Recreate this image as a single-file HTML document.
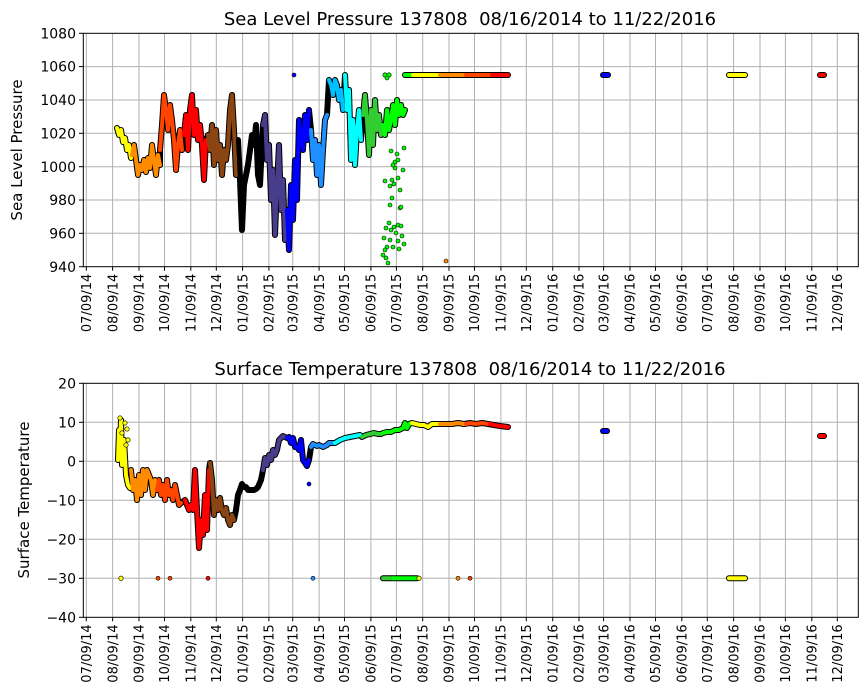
<!DOCTYPE html>
<html><head><meta charset="utf-8"><style>
html,body{margin:0;padding:0;background:#fff;}
svg{display:block;font-family:"DejaVu Sans","Liberation Sans",sans-serif;}
.t{font-size:14px;fill:#000;}
.o{fill:none;stroke:#000;stroke-width:6;stroke-linejoin:round;stroke-linecap:round;}
.c{fill:none;stroke-width:4;stroke-linejoin:round;stroke-linecap:round;}
</style></head><body>
<svg width="867" height="700" viewBox="0 0 867 700" xmlns="http://www.w3.org/2000/svg">
<defs>
<g id="vgrid" stroke="#b0b0b0" stroke-width="1">
<line x1="86.3" x2="86.3" y1="0" y2="234"/><line x1="112.6" x2="112.6" y1="0" y2="234"/><line x1="139" x2="139" y1="0" y2="234"/><line x1="164.5" x2="164.5" y1="0" y2="234"/><line x1="190.8" x2="190.8" y1="0" y2="234"/><line x1="216.3" x2="216.3" y1="0" y2="234"/><line x1="242.6" x2="242.6" y1="0" y2="234"/><line x1="268.9" x2="268.9" y1="0" y2="234"/><line x1="292.7" x2="292.7" y1="0" y2="234"/><line x1="319.1" x2="319.1" y1="0" y2="234"/><line x1="344.5" x2="344.5" y1="0" y2="234"/><line x1="370.9" x2="370.9" y1="0" y2="234"/><line x1="396.4" x2="396.4" y1="0" y2="234"/><line x1="422.7" x2="422.7" y1="0" y2="234"/><line x1="449" x2="449" y1="0" y2="234"/><line x1="474.5" x2="474.5" y1="0" y2="234"/><line x1="500.9" x2="500.9" y1="0" y2="234"/><line x1="526.3" x2="526.3" y1="0" y2="234"/><line x1="552.7" x2="552.7" y1="0" y2="234"/><line x1="579" x2="579" y1="0" y2="234"/><line x1="603.6" x2="603.6" y1="0" y2="234"/><line x1="630" x2="630" y1="0" y2="234"/><line x1="655.5" x2="655.5" y1="0" y2="234"/><line x1="681.8" x2="681.8" y1="0" y2="234"/><line x1="707.3" x2="707.3" y1="0" y2="234"/><line x1="733.6" x2="733.6" y1="0" y2="234"/><line x1="760" x2="760" y1="0" y2="234"/><line x1="785.4" x2="785.4" y1="0" y2="234"/><line x1="811.8" x2="811.8" y1="0" y2="234"/><line x1="837.3" x2="837.3" y1="0" y2="234"/>
</g>
<g id="xticks" stroke="#000">
<line x1="86.3" x2="86.3" y1="0" y2="4"/><line x1="112.6" x2="112.6" y1="0" y2="4"/><line x1="139" x2="139" y1="0" y2="4"/><line x1="164.5" x2="164.5" y1="0" y2="4"/><line x1="190.8" x2="190.8" y1="0" y2="4"/><line x1="216.3" x2="216.3" y1="0" y2="4"/><line x1="242.6" x2="242.6" y1="0" y2="4"/><line x1="268.9" x2="268.9" y1="0" y2="4"/><line x1="292.7" x2="292.7" y1="0" y2="4"/><line x1="319.1" x2="319.1" y1="0" y2="4"/><line x1="344.5" x2="344.5" y1="0" y2="4"/><line x1="370.9" x2="370.9" y1="0" y2="4"/><line x1="396.4" x2="396.4" y1="0" y2="4"/><line x1="422.7" x2="422.7" y1="0" y2="4"/><line x1="449" x2="449" y1="0" y2="4"/><line x1="474.5" x2="474.5" y1="0" y2="4"/><line x1="500.9" x2="500.9" y1="0" y2="4"/><line x1="526.3" x2="526.3" y1="0" y2="4"/><line x1="552.7" x2="552.7" y1="0" y2="4"/><line x1="579" x2="579" y1="0" y2="4"/><line x1="603.6" x2="603.6" y1="0" y2="4"/><line x1="630" x2="630" y1="0" y2="4"/><line x1="655.5" x2="655.5" y1="0" y2="4"/><line x1="681.8" x2="681.8" y1="0" y2="4"/><line x1="707.3" x2="707.3" y1="0" y2="4"/><line x1="733.6" x2="733.6" y1="0" y2="4"/><line x1="760" x2="760" y1="0" y2="4"/><line x1="785.4" x2="785.4" y1="0" y2="4"/><line x1="811.8" x2="811.8" y1="0" y2="4"/><line x1="837.3" x2="837.3" y1="0" y2="4"/>
</g>
<g id="xlabels" font-size="13" fill="#000" text-anchor="end">
<text transform="translate(91,7) rotate(-90)">07/09/14</text><text transform="translate(117.3,7) rotate(-90)">08/09/14</text><text transform="translate(143.7,7) rotate(-90)">09/09/14</text><text transform="translate(169.2,7) rotate(-90)">10/09/14</text><text transform="translate(195.5,7) rotate(-90)">11/09/14</text><text transform="translate(221,7) rotate(-90)">12/09/14</text><text transform="translate(247.3,7) rotate(-90)">01/09/15</text><text transform="translate(273.6,7) rotate(-90)">02/09/15</text><text transform="translate(297.4,7) rotate(-90)">03/09/15</text><text transform="translate(323.8,7) rotate(-90)">04/09/15</text><text transform="translate(349.2,7) rotate(-90)">05/09/15</text><text transform="translate(375.6,7) rotate(-90)">06/09/15</text><text transform="translate(401.1,7) rotate(-90)">07/09/15</text><text transform="translate(427.4,7) rotate(-90)">08/09/15</text><text transform="translate(453.7,7) rotate(-90)">09/09/15</text><text transform="translate(479.2,7) rotate(-90)">10/09/15</text><text transform="translate(505.6,7) rotate(-90)">11/09/15</text><text transform="translate(531,7) rotate(-90)">12/09/15</text><text transform="translate(557.4,7) rotate(-90)">01/09/16</text><text transform="translate(583.7,7) rotate(-90)">02/09/16</text><text transform="translate(608.3,7) rotate(-90)">03/09/16</text><text transform="translate(634.7,7) rotate(-90)">04/09/16</text><text transform="translate(660.2,7) rotate(-90)">05/09/16</text><text transform="translate(686.5,7) rotate(-90)">06/09/16</text><text transform="translate(712,7) rotate(-90)">07/09/16</text><text transform="translate(738.3,7) rotate(-90)">08/09/16</text><text transform="translate(764.7,7) rotate(-90)">09/09/16</text><text transform="translate(790.1,7) rotate(-90)">10/09/16</text><text transform="translate(816.5,7) rotate(-90)">11/09/16</text><text transform="translate(842,7) rotate(-90)">12/09/16</text>
</g>
</defs>

<!-- ===== TOP PLOT ===== -->
<text x="470" y="25" text-anchor="middle" font-size="18" xml:space="preserve">Sea Level Pressure 137808  08/16/2014 to 11/22/2016</text>
<use href="#vgrid" transform="translate(0,33.3)"/>
<g stroke="#b0b0b0" stroke-width="1">
<line x1="83.3" x2="858.3" y1="66.6" y2="66.6"/><line x1="83.3" x2="858.3" y1="100" y2="100"/><line x1="83.3" x2="858.3" y1="133.3" y2="133.3"/><line x1="83.3" x2="858.3" y1="166.7" y2="166.7"/><line x1="83.3" x2="858.3" y1="200" y2="200"/><line x1="83.3" x2="858.3" y1="233.3" y2="233.3"/></g>
<g stroke="#000"><line x1="79" x2="83.3" y1="33.3" y2="33.3"/><line x1="79" x2="83.3" y1="66.6" y2="66.6"/><line x1="79" x2="83.3" y1="100" y2="100"/><line x1="79" x2="83.3" y1="133.3" y2="133.3"/><line x1="79" x2="83.3" y1="166.7" y2="166.7"/><line x1="79" x2="83.3" y1="200" y2="200"/><line x1="79" x2="83.3" y1="233.3" y2="233.3"/><line x1="79" x2="83.3" y1="266.7" y2="266.7"/></g>
<g class="t" text-anchor="end"><text x="76" y="38.5">1080</text><text x="76" y="71.5">1060</text><text x="76" y="105">1040</text><text x="76" y="138.5">1020</text><text x="76" y="172">1000</text><text x="76" y="205">980</text><text x="76" y="238.5">960</text><text x="76" y="272">940</text></g>
<text transform="translate(22,150) rotate(-90)" text-anchor="middle" font-size="15">Sea Level Pressure</text>
<use href="#xticks" transform="translate(0,266.7)"/>
<use href="#xlabels" transform="translate(0,266.7)"/>

<g>
<g class="o">
<polyline points="117,128 119,135 121,130 123,142 125,138 127,150 129,145 131,158 132,155 134,145 136,160 138,175 140,165 142,170 144,160 146,172 148,158 150,168 152,145 154,160 156,175 158,155 160,165 160,150 162,125 164,95 166,110 168,130 170,105 172,120 174,140 176,170 178,145 180,130 182,150 184,135 186,115 188,150 190,110 192,95 194,135 196,110 198,140 200,125 202,145 204,180 206,140 208,135 210,150 212,125 214,165 216,130 218,160 220,145 222,175 224,150 226,160 228,145 230,110 232,95 234,130 236,175 238,140 240,180 242,230 244,185 246,175 248,165 250,150 252,135 254,145 256,125 258,175 260,185 263,125 265,115 267,160 269,145 271,200 273,170 275,235 277,185 279,145 281,210 283,180 285,240 287,210 289,250 291,185 293,220 295,160 297,200 299,120 301,135 303,150 305,115 307,140 309,110 311,130 313,160 315,140 317,175 319,145 321,185 323,150 325,120 327,115 329,80 331,85 333,95 335,80 337,85 339,100 341,90 343,110 345,75 347,110 349,90 351,160 353,120 355,165 357,130 359,110 361,140 363,115 365,95 367,120 369,155 371,110 373,145 375,100 377,130 379,115 381,135 383,125 385,135 387,110 389,130 391,120 393,105 395,125 397,100 399,115 401,105 403,115 405,110"/>
<line x1="405" x2="508" y1="75" y2="75"/><line x1="603" x2="608" y1="75" y2="75"/><line x1="729" x2="745" y1="75" y2="75"/><line x1="820" x2="824" y1="75" y2="75"/>
</g>
<polyline class="c" stroke="#ffff00" points="117,128 119,135 121,130 123,142 125,138 127,150 129,145 131,158"/>
<polyline class="c" stroke="#ff8c00" points="132,155 134,145 136,160 138,175 140,165 142,170 144,160 146,172 148,158 150,168 152,145 154,160 156,175 158,155 160,165"/>
<polyline class="c" stroke="#ff4500" points="160,150 162,125 164,95 166,110 168,130 170,105 172,120 174,140 176,170 178,145 180,130 182,150"/>
<polyline class="c" stroke="#ff0000" points="184,135 186,115 188,150 190,110 192,95 194,135 196,110 198,140 200,125 202,145 204,180 206,140"/>
<polyline class="c" stroke="#8b4513" points="208,135 210,150 212,125 214,165 216,130 218,160 220,145 222,175 224,150 226,160 228,145 230,110 232,95 234,130 236,175"/>
<polyline class="c" stroke="#000000" points="238,140 240,180 242,230 244,185 246,175 248,165 250,150 252,135 254,145 256,125 258,175 260,185"/>
<polyline class="c" stroke="#483d8b" points="263,125 265,115 267,160 269,145 271,200 273,170 275,235 277,185 279,145 281,210 283,180 285,240"/>
<polyline class="c" stroke="#0000ff" points="287,210 289,250 291,185 293,220 295,160 297,200 299,120 301,135 303,150 305,115 307,140 309,110"/>
<polyline class="c" stroke="#1e90ff" points="311,130 313,160 315,140 317,175 319,145 321,185 323,150 325,120 327,115"/>
<polyline class="c" stroke="#00bfff" points="329,80 331,85 333,95 335,80 337,85 339,100 341,90 343,110"/>
<polyline class="c" stroke="#00ffff" points="345,75 347,110 349,90 351,160 353,120 355,165 357,130 359,110 361,140"/>
<polyline class="c" stroke="#32cd32" points="363,115 365,95 367,120 369,155 371,110 373,145 375,100 377,130 379,115 381,135"/>
<polyline class="c" stroke="#00ff00" points="383,125 385,135 387,110 389,130 391,120 393,105 395,125 397,100 399,115 401,105 403,115 405,110"/>
<g class="c">
<line x1="405" x2="413" y1="75" y2="75" stroke="#00ff00"/><line x1="413" x2="440" y1="75" y2="75" stroke="#ffff00"/><line x1="440" x2="466" y1="75" y2="75" stroke="#ff8c00"/><line x1="466" x2="492" y1="75" y2="75" stroke="#ff4500"/><line x1="492" x2="508" y1="75" y2="75" stroke="#ff0000"/>
<line x1="603" x2="608" y1="75" y2="75" stroke="#0000ff"/><line x1="729" x2="745" y1="75" y2="75" stroke="#ffff00"/><line x1="820" x2="824" y1="75" y2="75" stroke="#ff0000"/>
</g>
<g stroke="#000" stroke-width="0.6" fill="#00ff00">
<circle cx="294" cy="75" r="2" fill="#0000ff"/><circle cx="385" cy="75" r="2.2"/><circle cx="389" cy="75" r="2.2"/><circle cx="387" cy="78" r="2"/>
<circle cx="446" cy="261" r="2" fill="#ff8c00"/>
<circle cx="391" cy="151" r="2"/><circle cx="395" cy="162" r="2"/><circle cx="395" cy="168" r="2"/><circle cx="397" cy="154" r="2"/><circle cx="398" cy="160" r="2"/><circle cx="393" cy="165" r="2"/><circle cx="392" cy="180" r="2"/><circle cx="394" cy="184" r="2"/><circle cx="398" cy="178" r="2"/><circle cx="400" cy="190" r="2"/><circle cx="403" cy="170" r="2"/><circle cx="404" cy="148" r="2"/><circle cx="385" cy="181" r="2"/><circle cx="390" cy="186" r="2"/><circle cx="392" cy="198" r="2"/><circle cx="390" cy="205" r="2"/><circle cx="398" cy="225" r="2"/><circle cx="400" cy="208" r="2"/><circle cx="401" cy="207" r="2"/><circle cx="386" cy="228" r="2"/><circle cx="389" cy="223" r="2"/><circle cx="391" cy="230" r="2"/><circle cx="394" cy="227" r="2"/><circle cx="396" cy="233" r="2"/><circle cx="390" cy="240" r="2"/><circle cx="387" cy="247" r="2"/><circle cx="393" cy="247" r="2"/><circle cx="398" cy="241" r="2"/><circle cx="402" cy="236" r="2"/><circle cx="404" cy="244" r="2"/><circle cx="384" cy="238" r="2"/><circle cx="385" cy="250" r="2"/><circle cx="386" cy="258" r="2"/><circle cx="388" cy="263" r="2"/><circle cx="383" cy="255" r="2"/><circle cx="401" cy="226" r="2"/><circle cx="399" cy="249" r="2"/>
</g>
</g>
<rect x="83.3" y="33.3" width="775" height="233.4" fill="none" stroke="#000" stroke-width="1"/>

<!-- ===== BOTTOM PLOT ===== -->
<text x="470" y="375" text-anchor="middle" font-size="18" xml:space="preserve">Surface Temperature 137808  08/16/2014 to 11/22/2016</text>
<use href="#vgrid" transform="translate(0,383.3)"/>
<g stroke="#b0b0b0" stroke-width="1">
<line x1="83.3" x2="858.3" y1="422.3" y2="422.3"/><line x1="83.3" x2="858.3" y1="461.3" y2="461.3"/><line x1="83.3" x2="858.3" y1="500.3" y2="500.3"/><line x1="83.3" x2="858.3" y1="539.3" y2="539.3"/><line x1="83.3" x2="858.3" y1="578.3" y2="578.3"/></g>
<g stroke="#000"><line x1="79" x2="83.3" y1="383.3" y2="383.3"/><line x1="79" x2="83.3" y1="422.3" y2="422.3"/><line x1="79" x2="83.3" y1="461.3" y2="461.3"/><line x1="79" x2="83.3" y1="500.3" y2="500.3"/><line x1="79" x2="83.3" y1="539.3" y2="539.3"/><line x1="79" x2="83.3" y1="578.3" y2="578.3"/><line x1="79" x2="83.3" y1="617.3" y2="617.3"/></g>
<g class="t" text-anchor="end"><text x="76" y="388.5">20</text><text x="76" y="427.5">10</text><text x="76" y="466.5">0</text><text x="76" y="505.5">−10</text><text x="76" y="544.5">−20</text><text x="76" y="583.5">−30</text><text x="76" y="622.5">−40</text></g>
<text transform="translate(29,500) rotate(-90)" text-anchor="middle" font-size="15">Surface Temperature</text>
<use href="#xticks" transform="translate(0,617.3)"/>
<use href="#xlabels" transform="translate(0,617.3)"/>

<g>
<g class="o">
<polyline points="118,460 119,430 120,450 121,420 122,465 124,440 126,475 128,485 130,488 131,470 133,490 135,480 137,500 139,475 141,495 143,470 145,490 147,470 149,475 151,480 153,495 155,480 157,490 159,480 161,495 163,485 165,500 167,480 169,495 171,490 173,500 175,485 177,495 179,505 181,503 185,500 187,505 189,510 191,505 193,510 195,470 197,510 199,548 201,520 203,535 205,495 207,530 209,470 210,463 212,480 214,515 216,500 218,510 220,498 222,510 224,515 226,508 228,520 230,525 232,515 234,520 236,510 238,495 240,490 242,484 244,487 246,487 248,490 250,490 252,490 254,490 256,489 258,487 261,480 263,470 265,458 267,465 269,455 271,460 273,450 275,455 277,450 279,440 281,438 283,436 285,437 287,438 289,437 291,443 293,438 295,447 297,447 299,450 301,440 303,460 305,463 307,466 309,460 311,447 313,444 315,445 317,446 319,445 321,446 323,447 325,446 327,445 329,443 335,443 340,440 345,438 350,437 355,436 360,435 362,437 366,435 370,434 374,433 378,434 381,434 383,433 387,432 391,432 395,430 399,430 403,428 405,423 407,428 409,424 412,423 416,424 420,425 424,425 428,427 432,424 436,424 440,424 446,424 452,424 458,423 464,424 470,423 476,424 482,423 488,424 494,425 500,426 508,427"/>
<line x1="603" x2="607" y1="431" y2="431"/><line x1="820" x2="824" y1="436" y2="436"/>
<line x1="383" x2="417" y1="578.3" y2="578.3"/><line x1="729" x2="745" y1="578.3" y2="578.3"/>
</g>
<polyline class="c" stroke="#ffff00" points="118,460 119,430 120,450 121,420 122,465 124,440 126,475 128,485 130,488"/>
<polyline class="c" stroke="#ff8c00" points="131,470 133,490 135,480 137,500 139,475 141,495 143,470 145,490 147,470 149,475 151,480 153,495 155,480"/>
<polyline class="c" stroke="#ff4500" points="157,490 159,480 161,495 163,485 165,500 167,480 169,495 171,490 173,500 175,485 177,495 179,505 181,503"/>
<polyline class="c" stroke="#ff0000" points="185,500 187,505 189,510 191,505 193,510 195,470 197,510 199,548 201,520 203,535 205,495 207,530 209,470"/>
<polyline class="c" stroke="#8b4513" points="210,463 212,480 214,515 216,500 218,510 220,498 222,510 224,515 226,508 228,520 230,525 232,515 234,520"/>
<polyline class="c" stroke="#000000" points="236,510 238,495 240,490 242,484 244,487 246,487 248,490 250,490 252,490 254,490 256,489 258,487 261,480"/>
<polyline class="c" stroke="#483d8b" points="263,470 265,458 267,465 269,455 271,460 273,450 275,455 277,450 279,440 281,438 283,436 285,437"/>
<polyline class="c" stroke="#0000ff" points="287,438 289,437 291,443 293,438 295,447 297,447 299,450 301,440 303,460 305,463 307,466 309,460"/>
<polyline class="c" stroke="#1e90ff" points="311,447 313,444 315,445 317,446 319,445 321,446 323,447 325,446 327,445 329,443 335,443"/>
<polyline class="c" stroke="#00ffff" points="335,443 340,440 345,438 350,437 355,436 360,435"/>
<polyline class="c" stroke="#32cd32" points="362,437 366,435 370,434 374,433 378,434 381,434"/>
<polyline class="c" stroke="#00ff00" points="383,433 387,432 391,432 395,430 399,430 403,428 405,423 407,428 409,424 412,423"/>
<polyline class="c" stroke="#ffff00" points="412,423 416,424 420,425 424,425 428,427 432,424 436,424 440,424"/>
<polyline class="c" stroke="#ff8c00" points="440,424 446,424 452,424 458,423 464,424 466,424"/>
<polyline class="c" stroke="#ff4500" points="466,424 470,423 476,424 482,423 488,424 490,424"/>
<polyline class="c" stroke="#ff0000" points="490,424 494,425 500,426 508,427"/>
<g class="c">
<line x1="603" x2="607" y1="431" y2="431" stroke="#0000ff"/><line x1="820" x2="824" y1="436" y2="436" stroke="#ff0000"/>
<line x1="383" x2="393" y1="578.3" y2="578.3" stroke="#32cd32"/><line x1="393" x2="417" y1="578.3" y2="578.3" stroke="#00ff00"/><line x1="729" x2="745" y1="578.3" y2="578.3" stroke="#ffff00"/>
</g>
<g stroke="#000" stroke-width="0.6">
<circle cx="121" cy="578.3" r="2.2" fill="#ffff00"/><circle cx="158" cy="578.3" r="2" fill="#ff4500"/><circle cx="170" cy="578.3" r="2" fill="#ff4500"/><circle cx="208" cy="578.3" r="2" fill="#ff0000"/><circle cx="313" cy="578.3" r="2" fill="#1e90ff"/><circle cx="419" cy="578.3" r="2.2" fill="#ffff00"/><circle cx="458" cy="578.3" r="2" fill="#ff8c00"/><circle cx="470" cy="578.3" r="2" fill="#ff4500"/>
<circle cx="309" cy="484" r="2" fill="#0000ff"/>
<circle cx="120" cy="418" r="2.2" fill="#ffff00"/><circle cx="125" cy="423" r="2.2" fill="#ffff00"/><circle cx="127" cy="429" r="2.2" fill="#ffff00"/><circle cx="128" cy="440" r="2.2" fill="#ffff00"/><circle cx="126" cy="445" r="2.2" fill="#ffff00"/><circle cx="122" cy="433" r="2.2" fill="#ffff00"/>
</g>
</g>
<rect x="83.3" y="383.3" width="775" height="234" fill="none" stroke="#000" stroke-width="1"/>
</svg>
</body></html>
